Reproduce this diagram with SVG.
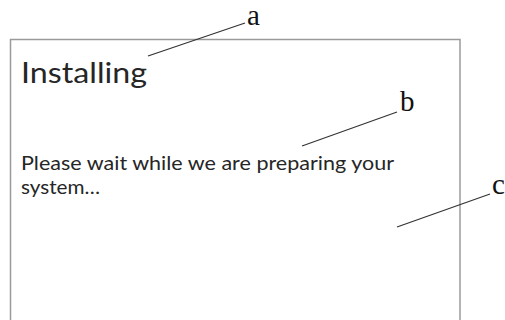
<svg xmlns="http://www.w3.org/2000/svg" width="505" height="320" viewBox="0 0 505 320">
<style>
.frame{fill:#fff;stroke:#9a9a9a;stroke-width:1.5}
.ui{font-family:Lato,"Open Sans",sans-serif;fill:#262626}
.lbl{font-family:"Liberation Serif","DejaVu Serif",serif;font-size:29px;fill:#111}
.lead{stroke:#333;stroke-width:1.2;fill:none}
</style>
<rect width="505" height="320" fill="#fff"/>
<g id="window">
<path class="frame" d="M10.5,325 V39.5 H460 V325"/>
<text class="ui" x="21" y="83" font-size="29" textLength="126" lengthAdjust="spacingAndGlyphs">Installing</text>
<text class="ui" x="21" y="170" font-size="20" textLength="373" lengthAdjust="spacingAndGlyphs">Please wait while we are preparing your</text>
<text class="ui" x="21" y="194" font-size="20" textLength="79" lengthAdjust="spacingAndGlyphs">system…</text>
</g>
<g id="connectors">
<line class="lead" x1="148" y1="56" x2="245" y2="23"/>
<line class="lead" x1="302" y1="146" x2="397" y2="112"/>
<line class="lead" x1="397" y1="227" x2="490" y2="194"/>
</g>
<g id="label-a"><text class="lbl" x="247" y="25">a</text></g>
<g id="label-b"><text class="lbl" x="400" y="111">b</text></g>
<g id="label-c"><text class="lbl" x="492" y="194">c</text></g>
</svg>
